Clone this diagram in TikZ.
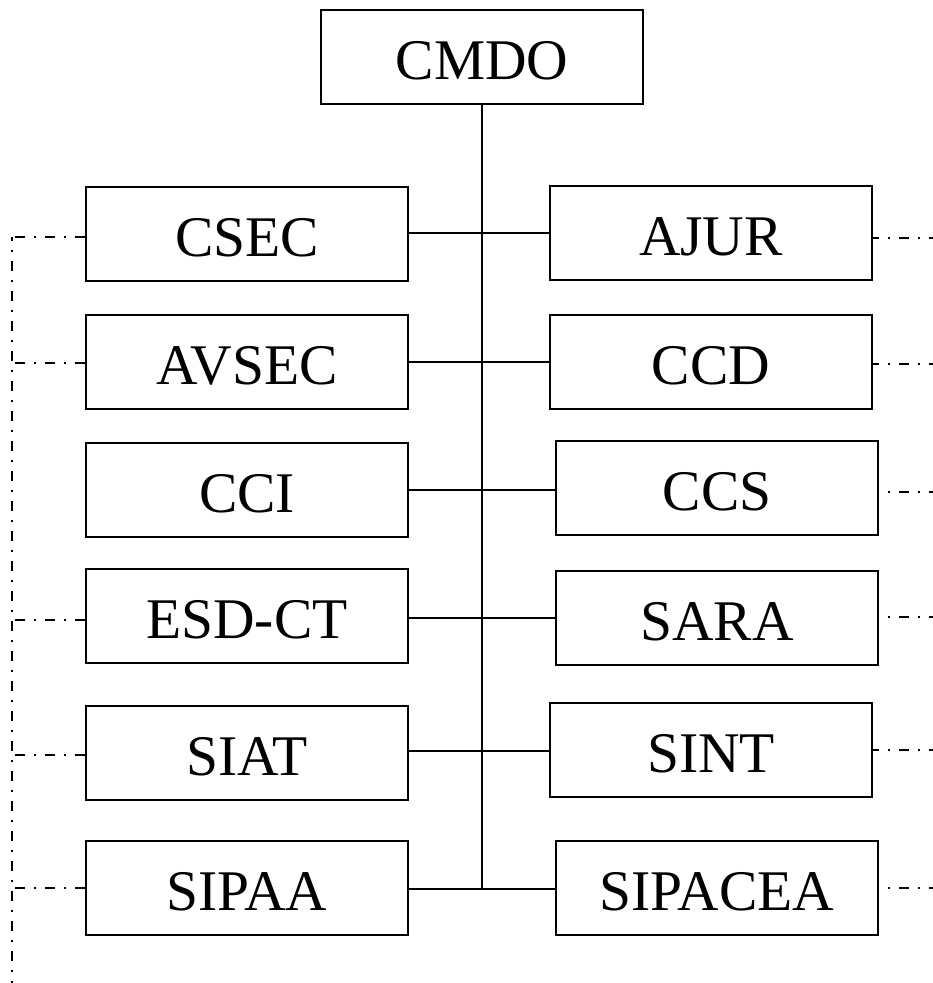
\documentclass[tikz,border=0pt]{standalone}
\usepackage{fontspec}
\setmainfont{Liberation Serif}
\begin{document}
\begin{tikzpicture}[x=1pt,y=-1pt,
 box/.style={draw,line width=2.5pt,minimum width=322pt,minimum height=94pt,inner sep=0pt,
   text height=45pt,text depth=0pt,font=\fontsize{57.5}{60}\selectfont},
 conn/.style={line width=2.5pt},
 dd/.style={line width=2.5pt,dash pattern=on 10pt off 9pt on 2pt off 9pt}]
\useasboundingbox (0,0) rectangle (933,983);
% nodes
\node[box] (CMDO) at (482,57) {CMDO};
\node[box] (CSEC) at (247,234) {CSEC};
\node[box] (AVSEC) at (247,362) {AVSEC};
\node[box] (CCI) at (247,490) {CCI};
\node[box] (ESD) at (247,616) {ESD-CT};
\node[box] (SIAT) at (247,753) {SIAT};
\node[box] (SIPAA) at (247,888) {SIPAA};
\node[box] (AJUR) at (711,233) {AJUR};
\node[box] (CCD) at (711,362) {CCD};
\node[box] (CCS) at (717,488) {CCS};
\node[box] (SARA) at (717,618) {SARA};
\node[box] (SINT) at (711,750) {SINT};
\node[box] (SIPACEA) at (717,888) {SIPACEA};
% spine coordinates
\coordinate (h1) at (482,233);
\coordinate (h2) at (482,362);
\coordinate (h3) at (482,490);
\coordinate (h4) at (482,618);
\coordinate (h5) at (482,751);
\coordinate (h6) at (482,889);
\draw[conn] (CMDO.south) -- (h6);
\draw[conn] (CSEC.east |- h1) -- (AJUR.west |- h1);
\draw[conn] (AVSEC.east |- h2) -- (CCD.west |- h2);
\draw[conn] (CCI.east |- h3) -- (CCS.west |- h3);
\draw[conn] (ESD.east |- h4) -- (SARA.west |- h4);
\draw[conn] (SIAT.east |- h5) -- (SINT.west |- h5);
\draw[conn] (SIPAA.east |- h6) -- (SIPACEA.west |- h6);
% left dash-dot
\coordinate (l1) at (12,237);
\coordinate (l2) at (12,363);
\coordinate (l4) at (12,620);
\coordinate (l5) at (12,755);
\coordinate (l6) at (12,888);
\coordinate (lb) at (12,983);
\draw[dd,dash phase=6pt] (l1) -- (lb);
\draw[dd] (CSEC.west |- l1) -- (l1);
\draw[dd] (AVSEC.west |- l2) -- (l2);
\draw[dd] (ESD.west |- l4) -- (l4);
\draw[dd] (SIAT.west |- l5) -- (l5);
\draw[dd] (SIPAA.west |- l6) -- (l6);
% right dash-dot
\coordinate (r1) at (933,238);
\coordinate (r2) at (933,364);
\coordinate (r3) at (933,492);
\coordinate (r4) at (933,617);
\coordinate (r5) at (933,750);
\coordinate (r6) at (933,888);
\draw[dd,dash phase=4pt] (AJUR.east |- r1) -- (r1);
\draw[dd,dash phase=4pt] (CCD.east |- r2) -- (r2);
\draw[dd,dash phase=10pt] (CCS.east |- r3) -- (r3);
\draw[dd,dash phase=10pt] (SARA.east |- r4) -- (r4);
\draw[dd,dash phase=4pt] (SINT.east |- r5) -- (r5);
\draw[dd,dash phase=10pt] (SIPACEA.east |- r6) -- (r6);
\end{tikzpicture}
\end{document}
